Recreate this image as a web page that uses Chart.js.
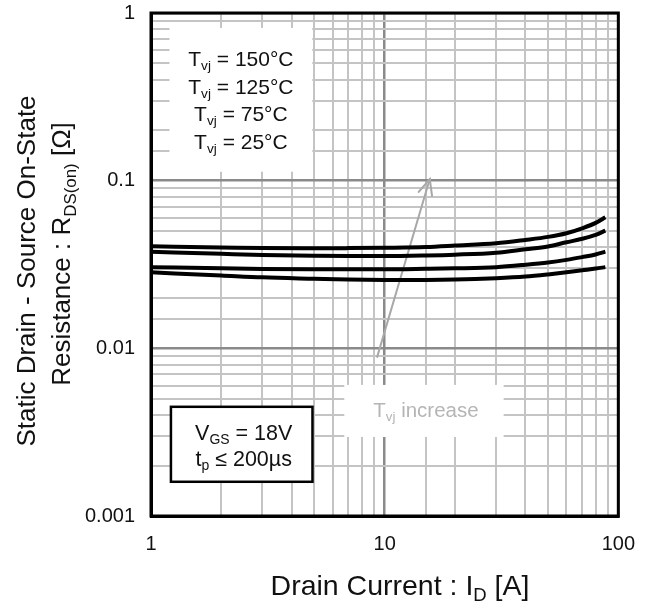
<!DOCTYPE html>
<html><head><meta charset="utf-8">
<script src="https://cdn.jsdelivr.net/npm/chart.js@4.4.1/dist/chart.umd.min.js"></script>
<style>html,body{margin:0;padding:0;background:#fff}</style>
</head><body>
<canvas id="c" width="651" height="609"></canvas>
<script>
// ---- data ----
const currents = [1, 2, 3, 5, 7, 10, 15, 20, 30, 40, 50, 60, 70, 80, 88];
const r150 = [0.0406, 0.0400, 0.0396, 0.0395, 0.0396, 0.0398, 0.0402, 0.0410, 0.0423, 0.0443, 0.0462, 0.0486, 0.0520, 0.0560, 0.0605];
const r125 = [0.0377, 0.0366, 0.0360, 0.0356, 0.0355, 0.0355, 0.0358, 0.0362, 0.0372, 0.0390, 0.0405, 0.0429, 0.0450, 0.0475, 0.0503];
const r75  = [0.0305, 0.0300, 0.0297, 0.0296, 0.0296, 0.0296, 0.0298, 0.0300, 0.0305, 0.0315, 0.0325, 0.0337, 0.0350, 0.0363, 0.0377];
const r25  = [0.0284, 0.0272, 0.0265, 0.0260, 0.0257, 0.0256, 0.0256, 0.0257, 0.0262, 0.0268, 0.0276, 0.0284, 0.0292, 0.0299, 0.0305];
const seriesNames = ['150°C', '125°C', '75°C', '25°C'];
const xTickLabels = ['1', '10', '100'];
const yTickLabels = ['0.001', '0.01', '0.1', '1'];

const FONT = '"Liberation Sans", Arial, sans-serif';

function matchLabel(v, labels) {
  for (const l of labels) {
    const n = parseFloat(l);
    if (Math.abs(v - n) / n < 1e-6) return l;
  }
  return '';
}
function isDecade(v) {
  const l = Math.log10(v);
  return Math.abs(l - Math.round(l)) < 1e-6;
}

function drawRich(ctx, parts, cx, cy, size, color) {
  let w = 0;
  for (const p of parts) {
    ctx.font = (p.sub ? size * 0.65 : size) + 'px ' + FONT;
    p.w = ctx.measureText(p.t).width;
    w += p.w;
  }
  let x = cx - w / 2;
  const by = cy + size * 0.36;
  ctx.fillStyle = color;
  ctx.textAlign = 'left';
  ctx.textBaseline = 'alphabetic';
  for (const p of parts) {
    ctx.font = (p.sub ? size * 0.65 : size) + 'px ' + FONT;
    ctx.fillText(p.t, x, p.sub ? by + size * 0.2 : by);
    x += p.w;
  }
}

const annot = {
  id: 'annot',
  beforeDatasetsDraw(chart) {
    const ctx = chart.ctx, xs = chart.scales.x, ys = chart.scales.y;
    ctx.save();
    // Temperature legend box
    let x0 = xs.getPixelForValue(1.2), x1 = xs.getPixelForValue(4.9);
    let y0 = ys.getPixelForValue(0.815), y1 = ys.getPixelForValue(0.113);
    ctx.fillStyle = '#fff';
    ctx.fillRect(x0, y0, x1 - x0, y1 - y0);
    const cx = (x0 + x1) / 2, cy = (y0 + y1) / 2;
    seriesNames.forEach((n, i) => {
      drawRich(ctx, [{t: 'T'}, {t: 'vj', sub: true}, {t: ' = ' + n}], cx, cy + (i - 1.5) * 27.7, 21, '#111');
    });
    // Tvj increase box
    x0 = xs.getPixelForValue(6.72); x1 = xs.getPixelForValue(32.3);
    y0 = ys.getPixelForValue(0.00605); y1 = ys.getPixelForValue(0.00296);
    ctx.fillStyle = '#fff';
    ctx.fillRect(x0, y0, x1 - x0, y1 - y0);
    drawRich(ctx, [{t: 'T'}, {t: 'vj', sub: true}, {t: ' increase'}], (x0 + x1) / 2 + 2, (y0 + y1) / 2 - 1, 20.5, '#b5b5b5');
    // arrow
    const ax0 = xs.getPixelForValue(9.29), ay0 = ys.getPixelForValue(0.00889);
    const ax1 = xs.getPixelForValue(15.6), ay1 = ys.getPixelForValue(0.1023);
    ctx.strokeStyle = '#a8a8a8';
    ctx.lineWidth = 2;
    ctx.lineCap = 'round';
    ctx.beginPath(); ctx.moveTo(ax0, ay0); ctx.lineTo(ax1, ay1); ctx.stroke();
    const ang = Math.atan2(ay0 - ay1, ax0 - ax1);
    const hl = 17, spread = 0.42;
    ctx.beginPath();
    ctx.moveTo(ax1 + hl * Math.cos(ang - spread), ay1 + hl * Math.sin(ang - spread));
    ctx.lineTo(ax1, ay1);
    ctx.lineTo(ax1 + hl * Math.cos(ang + spread), ay1 + hl * Math.sin(ang + spread));
    ctx.stroke();
    // VGS box
    x0 = xs.getPixelForValue(1.217); x1 = xs.getPixelForValue(4.91);
    y0 = ys.getPixelForValue(0.00448); y1 = ys.getPixelForValue(0.0016);
    ctx.fillStyle = '#fff';
    ctx.fillRect(x0, y0, x1 - x0, y1 - y0);
    ctx.strokeStyle = '#000'; ctx.lineWidth = 2.5; ctx.lineCap = 'butt';
    ctx.strokeRect(x0, y0, x1 - x0, y1 - y0);
    const vx = (x0 + x1) / 2 + 2, vy = (y0 + y1) / 2 + 1;
    drawRich(ctx, [{t: 'V'}, {t: 'GS', sub: true}, {t: ' = 18V'}], vx, vy - 13, 21.5, '#111');
    drawRich(ctx, [{t: 't'}, {t: 'p', sub: true}, {t: ' ≤ 200µs'}], vx, vy + 13, 21.5, '#111');
    ctx.restore();
  },
  afterDraw(chart) {
    const ctx = chart.ctx, a = chart.chartArea;
    ctx.save();
    ctx.strokeStyle = '#000'; ctx.lineWidth = 3;
    ctx.strokeRect(a.left, a.top, a.right - a.left, a.bottom - a.top);
    // x title
    drawRich(ctx, [{t: 'Drain Current : I'}, {t: 'D', sub: true}, {t: ' [A]'}], 400, 585, 28.5, '#111');
    // y title
    ctx.translate(26, 271); ctx.rotate(-Math.PI / 2);
    drawRich(ctx, [{t: 'Static Drain - Source On-State'}], 0, 0, 26, '#111');
    ctx.rotate(Math.PI / 2); ctx.translate(-26, -271);
    ctx.translate(61, 254); ctx.rotate(-Math.PI / 2);
    drawRich(ctx, [{t: 'Resistance : R'}, {t: 'DS(on)', sub: true}, {t: ' [Ω]'}], 0, 0, 26, '#111');
    ctx.restore();
  }
};

const mk = (arr) => currents.map((x, i) => ({x: x, y: arr[i]}));
const lineStyle = {borderColor: '#000', borderWidth: 4, pointRadius: 0, fill: false, tension: 0.4, cubicInterpolationMode: 'monotone'};

new Chart(document.getElementById('c'), {
  type: 'line',
  data: {
    datasets: [
      Object.assign({label: seriesNames[0], data: mk(r150)}, lineStyle),
      Object.assign({label: seriesNames[1], data: mk(r125)}, lineStyle),
      Object.assign({label: seriesNames[2], data: mk(r75)}, lineStyle),
      Object.assign({label: seriesNames[3], data: mk(r25)}, lineStyle)
    ]
  },
  options: {
    responsive: false,
    animation: false,
    devicePixelRatio: 1,
    layout: {padding: {left: 0, top: 0, right: 31, bottom: 0}},
    plugins: {legend: {display: false}, tooltip: {enabled: false}},
    scales: {
      x: {
        type: 'logarithmic', min: 1, max: 100,
        afterFit(s) { s.height = 93; },
        grid: {
          drawTicks: false,
          color: c => isDecade(c.tick.value) ? '#8a8a8a' : '#c4c4c4',
          lineWidth: c => isDecade(c.tick.value) ? 2.5 : 2
        },
        border: {display: true, color: '#000', width: 3},
        ticks: {
          autoSkip: false, maxRotation: 0, padding: 16, color: '#111',
          font: {family: FONT, size: 20},
          callback: v => matchLabel(v, xTickLabels)
        }
      },
      y: {
        type: 'logarithmic', min: 0.001, max: 1,
        afterFit(s) { s.width = 151; s.paddingTop = 13; s.paddingBottom = 0; },
        grid: {
          drawTicks: false,
          color: c => isDecade(c.tick.value) ? '#8a8a8a' : '#c4c4c4',
          lineWidth: c => isDecade(c.tick.value) ? 2.5 : 2
        },
        border: {display: true, color: '#000', width: 3},
        ticks: {
          autoSkip: false, padding: 16, color: '#111',
          font: {family: FONT, size: 20},
          callback: v => matchLabel(v, yTickLabels)
        }
      }
    }
  },
  plugins: [annot]
});
</script>
</body></html>
